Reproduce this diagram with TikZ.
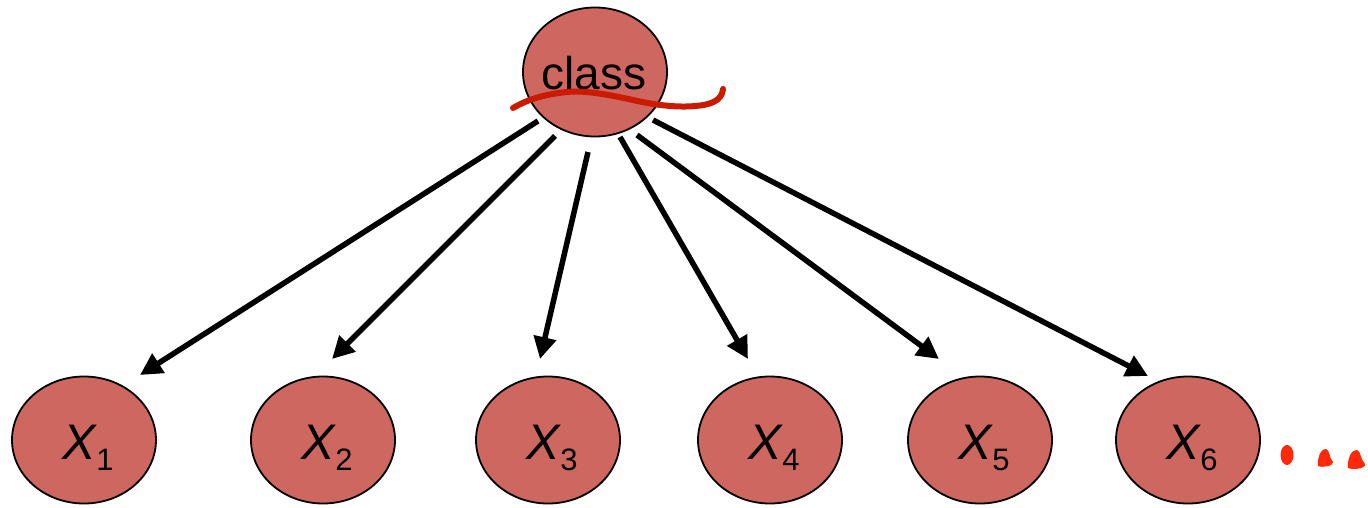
\documentclass[tikz,border=0pt]{standalone}
\usepackage{fontspec}
\setmainfont{Liberation Sans}
\usetikzlibrary{arrows.meta,calc,shapes.geometric}
\definecolor{nodefill}{RGB}{205,103,96}
\definecolor{inkred}{RGB}{204,26,0}
\definecolor{dotred}{RGB}{255,40,10}
\tikzset{
  varnode/.style={ellipse, draw=black, line width=1.8pt, fill=nodefill,
    minimum width=144pt, minimum height=127pt, inner sep=0pt},
  edgearrow/.style={line width=5.5pt, -{Triangle[length=22pt,width=22pt]}},
  lbl/.style={font=\fontsize{50}{50}\selectfont},
}
% italic X with a lowered numeric subscript
\newcommand{\varX}[1]{\textit{X}\kern-1pt\raisebox{-11pt}{\fontsize{31}{31}\selectfont #1}}
\begin{document}
\begin{tikzpicture}[x=1pt,y=-1pt]
\useasboundingbox (0,0) rectangle (1368,508);

% class node
\node[varnode, minimum height=129pt] (cls) at (595,72) {};
\node[font=\fontsize{46}{46}\selectfont, anchor=base] (clslbl) at (594,90) {class};

% feature nodes
\node[varnode] (x1) at (84,440)  {};
\node[varnode] (x2) at (323,440) {};
\node[varnode] (x3) at (548,440) {};
\node[varnode] (x4) at (770,440) {};
\node[varnode] (x5) at (980,440) {};
\node[varnode] (x6) at (1188,440) {};
\foreach \n/\xx in {1/84,2/323,3/548,4/770,5/980,6/1188}{
  \node[lbl, anchor=base] (t\n) at (\xx+4,459) {\varX{\n}};
}

% edges from the class to each feature
\draw[edgearrow] ($(cls)+(-57,49)$) -- ($(x1)+(56,-65)$);
\draw[edgearrow] ($(cls)+(-40,64)$) -- ($(x2)+(9,-81)$);
\draw[edgearrow] ($(cls)+(-7,80)$)  -- ($(x3)+(-8,-81)$);
\draw[edgearrow] ($(cls)+(25,65)$)  -- ($(x4)+(-22,-81)$);
\draw[edgearrow] ($(cls)+(42,63)$)  -- ($(x5)+(-41,-81)$);
\draw[edgearrow] ($(cls)+(58,48)$)  -- ($(x6)+(-40,-64)$);

% hand-drawn red stroke across the class node
\draw[inkred, line width=6pt, line cap=round, line join=round]
  (513,108) .. controls (530,98) and (548,94) .. (567,92)
  .. controls (585,90) and (610,95) .. (633,100)
  .. controls (650,104) and (675,108) .. (695,106)
  .. controls (710,105) and (722,101) .. (723,89);

% hand-drawn trailing dots
\fill[dotred] (1287,455) ellipse [x radius=6.5, y radius=10];
\fill[dotred] (1318,466) .. controls (1317,456) and (1322,448) .. (1326,449)
  .. controls (1330,450) and (1329,458) .. (1333,462)
  .. controls (1334,466) and (1322,468) .. (1318,466) -- cycle;
\fill[dotred] (1348,468) .. controls (1347,458) and (1352,449) .. (1357,450)
  .. controls (1361,451) and (1360,459) .. (1365,464)
  .. controls (1366,469) and (1352,470) .. (1348,468) -- cycle;
\end{tikzpicture}
\end{document}
